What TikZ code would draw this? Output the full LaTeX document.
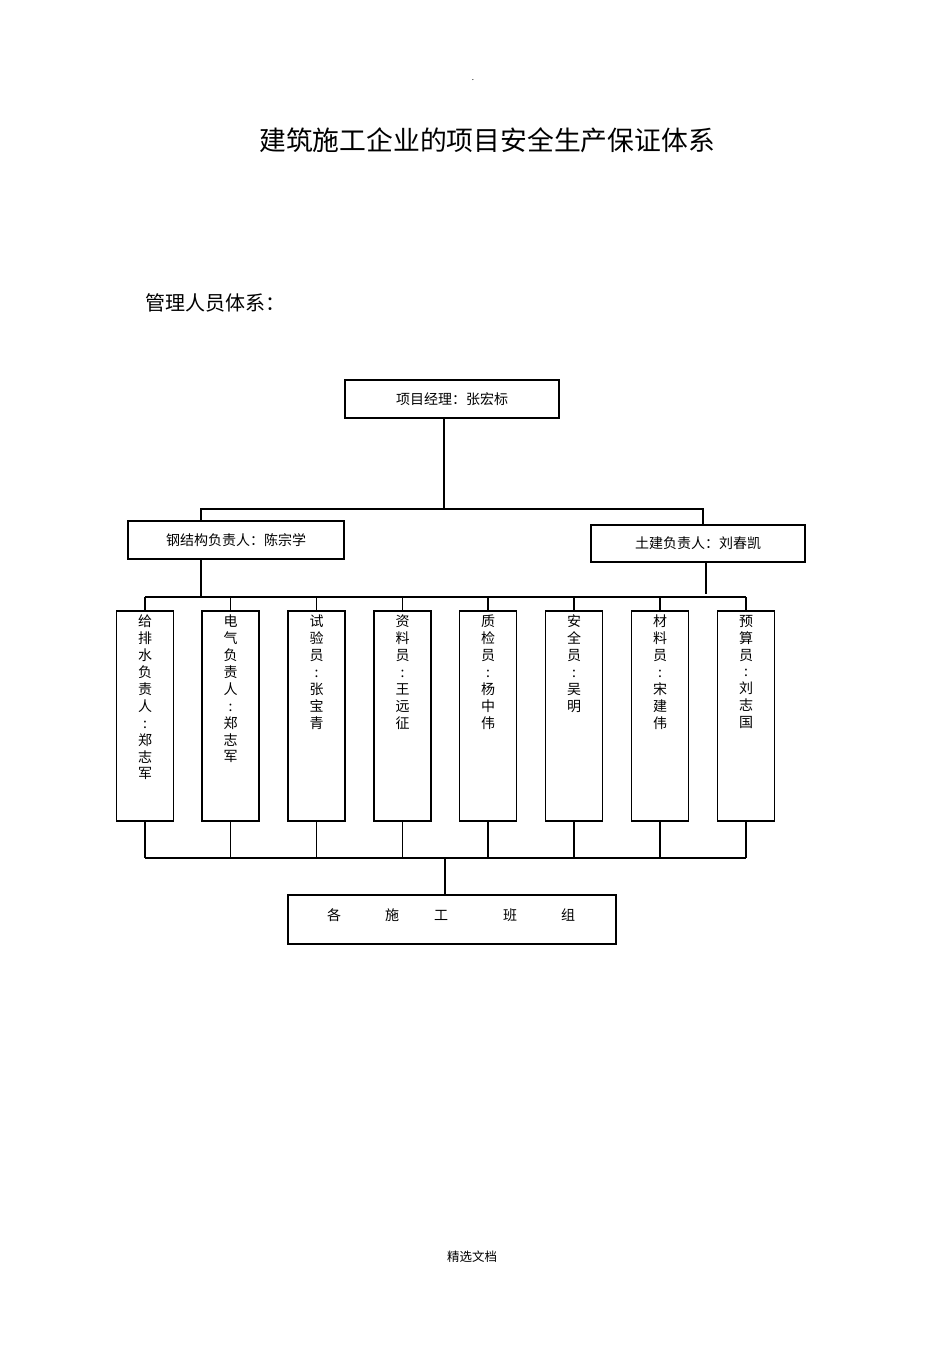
\documentclass[tikz,border=0pt]{standalone}
\usepackage{fontspec}
\setmainfont{Noto Sans CJK SC}
\begin{document}
\begin{tikzpicture}[x=1pt,y=-1pt,
  box/.style={draw, line width=1.3pt, inner sep=0pt, font=\fontsize{14pt}{16.8pt}\selectfont},
  vbox/.style={box, minimum width=57pt, minimum height=210pt},
  vtext/.style={anchor=north, inner sep=0pt, align=center, font=\fontsize{14pt}{16.9pt}\selectfont},
  conn/.style={line width=1.2pt}]
\useasboundingbox (0,0) rectangle (950,1345);

\node[inner sep=0pt, font=\fontsize{8pt}{9pt}\selectfont] (dot) at (473,80) {.};
\node[inner sep=0pt, font=\fontsize{26.8pt}{30pt}\selectfont] (title) at (487,140) {建筑施工企业的项目安全生产保证体系};
\node[inner sep=0pt, anchor=west, font=\fontsize{20pt}{24pt}\selectfont] (sub) at (145,303) {管理人员体系：};

\node[box, minimum width=214pt, minimum height=38pt] (pm) at (452,399) {项目经理：张宏标};
\node[box, minimum width=216pt, minimum height=38pt] (gs) at (236,540) {钢结构负责人：陈宗学\hspace{8pt}};
\node[box, minimum width=214pt, minimum height=37pt] (tj) at (698,543.5) {土建负责人：刘春凯\hspace{6pt}};

\foreach \i/\x in {1/145,2/230.5,3/316.5,4/402.5,5/488,6/574,7/660,8/746}
  \node[vbox] (b\i) at (\x,716) {};

\node[vtext] (t1) at ([yshift=-4.5pt]b1.north) {给\\排\\水\\负\\责\\人\\:\\郑\\志\\军};
\node[vtext] (t2) at ([yshift=-4.5pt]b2.north) {电\\气\\负\\责\\人\\:\\郑\\志\\军};
\node[vtext] (t3) at ([yshift=-4.5pt]b3.north) {试\\验\\员\\:\\张\\宝\\青};
\node[vtext] (t4) at ([yshift=-4.5pt]b4.north) {资\\料\\员\\:\\王\\远\\征};
\node[vtext] (t5) at ([yshift=-4.5pt]b5.north) {质\\检\\员\\:\\杨\\中\\伟};
\node[vtext] (t6) at ([yshift=-4.5pt]b6.north) {安\\全\\员\\:\\吴\\明};
\node[vtext] (t7) at ([yshift=-4.5pt]b7.north) {材\\料\\员\\:\\宋\\建\\伟};
\node[vtext] (t8) at ([yshift=-4.5pt]b8.north) {预\\算\\员\\:\\刘\\志\\国};

\node[box, minimum width=328pt, minimum height=49pt] (grp) at (452,919.5) {};
\node[inner sep=0pt, font=\fontsize{14pt}{16.8pt}\selectfont] (grpt) at (451,915) {各\hspace{44pt}施\hspace{35pt}工\hspace{55pt}班\hspace{44pt}组};

\node[inner sep=0pt, font=\fontsize{12.5pt}{15pt}\selectfont] (foot) at (472,1257) {精选文档};

\coordinate (j0) at (444,509);
\coordinate (jl) at (201,509);
\coordinate (jr) at (703,509);
\coordinate (bl) at (201,597);
\coordinate (rb) at (706,594);
\coordinate (bus) at (0,597);
\coordinate (bus2) at (0,858);
\coordinate (jb) at (445,858);

\draw[conn] (pm.south -| j0) -- (j0);
\draw[conn] (gs.north -| jl) -- (jl) -- (jr) -- (tj.north -| jr);
\draw[conn] (gs.south -| bl) -- (bl);
\draw[conn] (tj.south -| rb) -- (rb);
\draw[conn] (b1.north |- bus) -- (b8.north |- bus);
\draw[conn] (b1.south |- bus2) -- (b8.south |- bus2);
\foreach \i in {1,...,8} {
  \draw[conn] (b\i.north) -- (b\i.north |- bus);
  \draw[conn] (b\i.south) -- (b\i.south |- bus2);
}
\draw[conn] (jb) -- (grp.north -| jb);
\end{tikzpicture}
\end{document}
